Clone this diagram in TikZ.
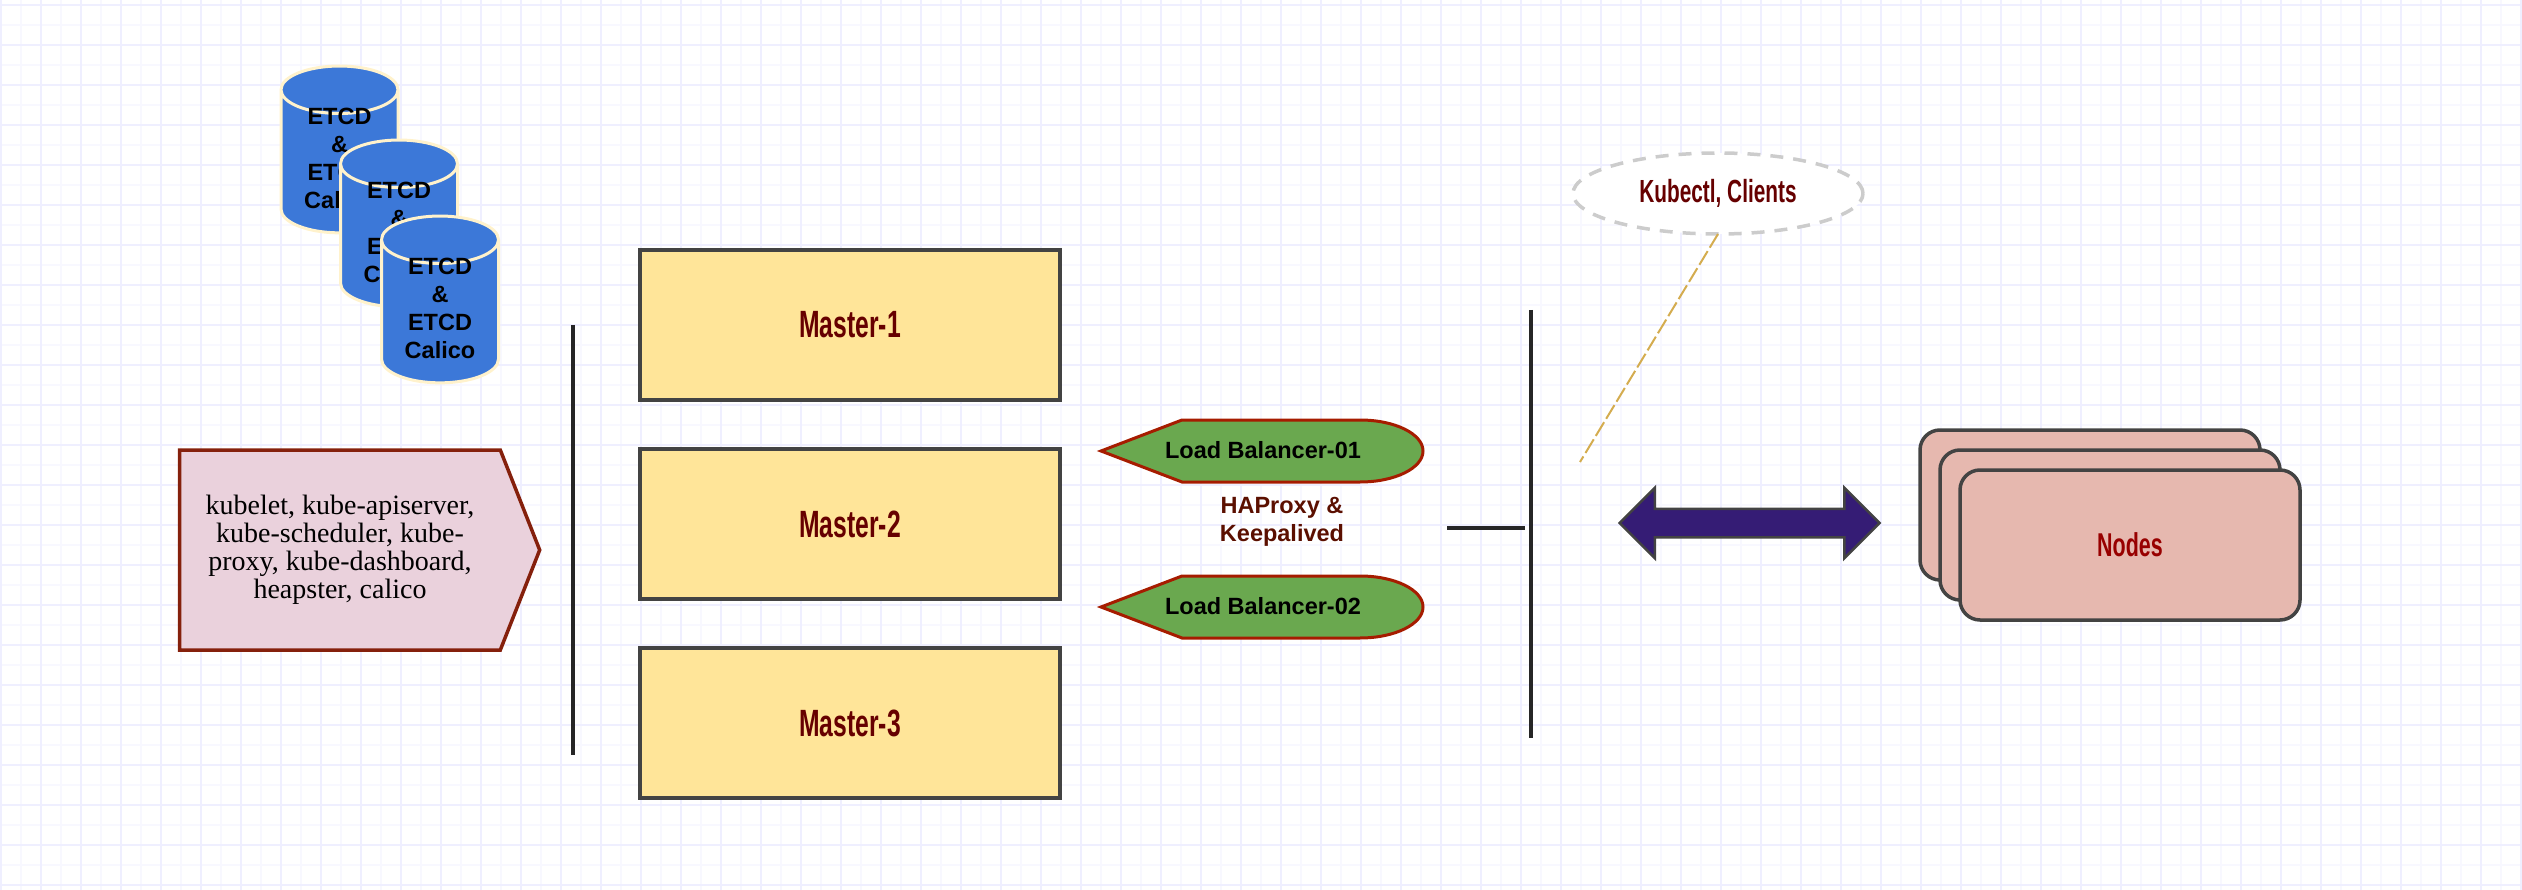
\documentclass[tikz,border=0pt]{standalone}
\usepackage{fontspec}
\setmainfont{Liberation Sans}
\newfontfamily\timesfont{Liberation Serif}
\newfontfamily\narrowfont[FakeStretch=0.65]{Liberation Sans}
\usetikzlibrary{shapes,
                shapes.geometric,
                shapes.symbols,
                shapes.arrows,
                positioning}
\definecolor{gridmajor}{HTML}{EFEFFF}
\definecolor{gridminor}{HTML}{F8F8FF}
\definecolor{etcdblue}{HTML}{3C78D8}
\definecolor{etcdedge}{HTML}{FFF2CC}
\definecolor{masterfill}{HTML}{FFE599}
\definecolor{darkline}{HTML}{434343}
\definecolor{darktext}{HTML}{660000}
\definecolor{lbgreen}{HTML}{6AA84F}
\definecolor{lbedge}{HTML}{A61C00}
\definecolor{haproxytext}{HTML}{5B0F00}
\definecolor{podfill}{HTML}{EAD1DC}
\definecolor{podedge}{HTML}{85200C}
\definecolor{workerfill}{HTML}{E6B8AF}
\definecolor{workertext}{HTML}{980000}
\definecolor{arrowfill}{HTML}{351C75}
\definecolor{clientedge}{HTML}{CCCCCC}
\definecolor{clientlink}{HTML}{D4AC4F}
\tikzset{etcd/.style =
   {cylinder,
    shape border rotate=90,
    aspect=0.615,
    draw=etcdedge,
    line width=3pt,
    fill=etcdblue,
    outer sep=0pt,
    inner ysep=0pt,
    minimum width=117pt,
    minimum height=164pt,
    align=center,
    text height=94pt,
    text depth=8pt,
    font=\fontsize{23.5}{28}\selectfont\bfseries}}
\tikzset{master/.style =
   {rectangle,
    draw=darkline,
    line width=3.5pt,
    fill=masterfill,
    text=darktext,
    outer sep=0pt,
    minimum width=420pt,
    minimum height=150pt,
    font=\fontsize{38}{44}\selectfont\narrowfont\bfseries}}
\tikzset{worker/.style =
   {rectangle,
    rounded corners=20pt,
    draw=darkline,
    line width=3.5pt,
    fill=workerfill,
    outer sep=0pt,
    minimum width=340pt,
    minimum height=150pt}}
\tikzset{balancer/.style =
   {draw=lbedge,
    line width=3pt,
    fill=lbgreen}}
\tikzset{bar/.style = {draw=black!85, line width=4pt}}
\tikzset{lbtext/.style = {font=\fontsize{23.5}{28}\selectfont\bfseries}}

\begin{document}
\begin{tikzpicture}[x=1pt, y=-1pt]

    \useasboundingbox (0,0) rectangle (2522,890);

    % background grid
    \foreach \i in {0,...,63}
        \draw [gridminor, line width=2pt] (21+40*\i,0) -- (21+40*\i,890);
    \foreach \i in {0,...,22}
        \draw [gridminor, line width=2pt] (0,25+40*\i) -- (2522,25+40*\i);
    \foreach \i in {0,...,63}
        \draw [gridmajor, line width=2pt] (1+40*\i,0) -- (1+40*\i,890);
    \foreach \i in {0,...,22}
        \draw [gridmajor, line width=2pt] (0,5+40*\i) -- (2522,5+40*\i);

    % etcd stack
    \node [etcd] (etcd1) at (339.5,166) {ETCD\\\&\\ETCD\\Calico};
    \node [etcd] (etcd2) at (399,240) {ETCD\\\&\\ETCD\\Calico};
    \node [etcd] (etcd3) at (440,316) {ETCD\\\&\\ETCD\\Calico};

    % components
    \node [signal,
           signal to=east,
           signal pointer angle=137,
           draw=podedge,
           line width=3.5pt,
           fill=podfill,
           outer sep=0pt,
           minimum width=360pt,
           minimum height=200pt,
           align=center,
           font=\fontsize{28}{28}\selectfont\timesfont] (comps) at (340,550)
        {kubelet, kube-apiserver,\\kube-scheduler, kube-\\proxy, kube-dashboard,\\heapster, calico};

    \coordinate (leftbartop) at (573,325);
    \coordinate (leftbarbot) at (573,755);
    \draw [bar] (leftbartop) -- (leftbarbot);

    % masters
    \node [master] (master1) at (850,325) {Master-1};
    \node [master, below = 49pt of master1] (master2) {Master-2};
    \node [master, below = 49pt of master2] (master3) {Master-3};

    % load balancers
    \draw [balancer] (1101,451) -- (1182,420) -- (1360,420)
        arc (-90:90:63 and 31) -- (1182,482) -- cycle;
    \node [lbtext] (lb1) at (1263,450) {Load Balancer-01};
    \draw [balancer] (1101,607) -- (1182,576) -- (1360,576)
        arc (-90:90:63 and 31) -- (1182,638) -- cycle;
    \node [lbtext] (lb2) at (1263,606) {Load Balancer-02};

    \node [lbtext,
           text=haproxytext,
           align=center] (haproxy) at (1282,522) {HAProxy \&\\Keepalived};

    % right side bar and stub
    \coordinate (rightbartop) at (1531,310);
    \coordinate (rightbarbot) at (1531,738);
    \coordinate (stubleft) at (1447,528);
    \coordinate (stubright) at (1525,528);
    \draw [bar] (rightbartop) -- (rightbarbot);
    \draw [bar] (stubleft) -- (stubright);

    % clients
    \node [ellipse,
           draw=clientedge,
           line width=3.5pt,
           dash pattern=on 13pt off 10pt,
           fill=white,
           outer sep=0pt,
           minimum width=290pt,
           minimum height=81pt,
           text=darktext,
           font=\fontsize{32}{36}\selectfont\narrowfont\bfseries] (clients) at (1718,193.5) {Kubectl, Clients};

    \coordinate (clientend) at (1580,462);
    \draw [clientlink, line width=2pt, dash pattern=on 16pt off 4pt] (clients.south) -- (clientend);

    % arrow to workers
    \node [double arrow,
           double arrow head extend=21pt,
           draw=darkline,
           line width=2.5pt,
           fill=arrowfill,
           outer sep=0pt,
           inner xsep=0pt,
           inner ysep=13pt,
           minimum height=260pt,
           minimum width=68pt] (link) at (1749.5,523) {};

    % workers
    \node [worker] (worker1) at (2090,505) {};
    \node [worker] (worker2) at (2110,525) {};
    \node [worker,
           text=workertext,
           font=\fontsize{33}{38}\selectfont\narrowfont\bfseries] (worker3) at (2130,545) {Nodes};

\end{tikzpicture}
\end{document}
